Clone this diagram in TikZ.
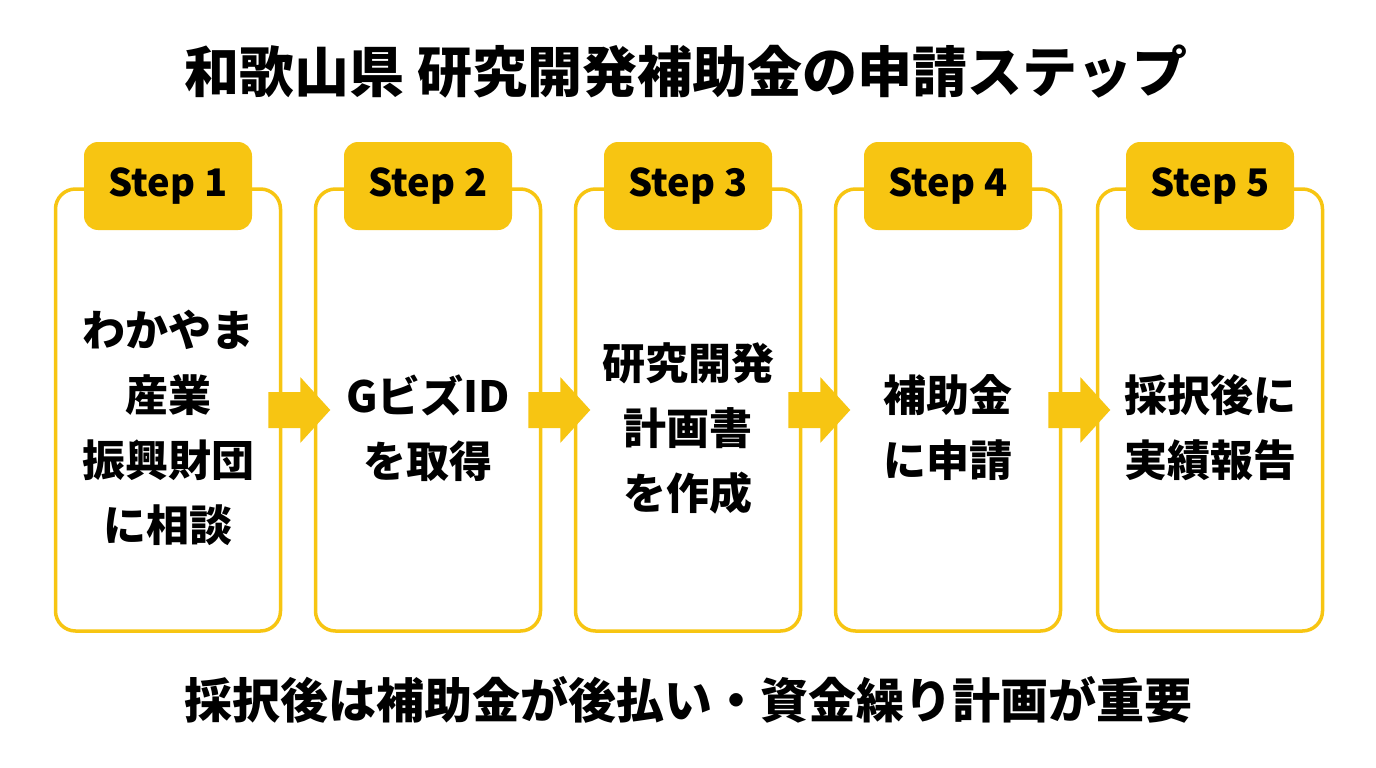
\documentclass[tikz,border=0pt]{standalone}
\usepackage{fontspec}
\setmainfont{Noto Sans CJK JP}
\definecolor{yel}{HTML}{F7C512}
\begin{document}
\begin{tikzpicture}[x=1pt,y=-1pt,
  box/.style={draw=yel,line width=3.5pt,rounded corners=20pt,minimum width=225pt,minimum height=442pt,fill=white},
  tab/.style={fill=yel,rounded corners=14pt,minimum width=168pt,minimum height=88pt,font=\bfseries\fontsize{38}{38}\selectfont,text=black},
  body/.style={align=center,font=\bfseries\fontsize{43}{65}\selectfont,text=black},
  arr/.style={fill=yel}]
\useasboundingbox (0,0) rectangle (1376,768);
\node[font=\bfseries\fontsize{55}{55}\selectfont] (title) at (686,72) {和歌山県 研究開発補助金の申請ステップ};
\foreach \i/\x/\t in {1/168/{わかやま\\産業\\振興財団\\に相談},2/428/{GビズID\\を取得},3/688/{研究開発\\計画書\\を作成},4/948/{補助金\\に申請},5/1210/{採択後に\\実績報告}}{
  \node[box] (b\i) at (\x,410) {};
  \node[tab] (t\i) at (\x,186) {Step \i};
  \node[body] (c\i) at (\x,428) {\t};
}
\foreach \a/\b in {1/2,2/3,3/4,4/5}{
  \path (b\a.east) ++(-14,0) coordinate (s\a);
  \fill[arr] (s\a) ++(0,-18) -- ++(32,0) -- ++(0,-15) -- ++(30,33) -- ++(-30,33) -- ++(0,-15) -- ++(-32,0) -- cycle;
}
\node[font=\bfseries\fontsize{48}{48}\selectfont] (foot) at (688,700) {採択後は補助金が後払い・資金繰り計画が重要};
\end{tikzpicture}
\end{document}
